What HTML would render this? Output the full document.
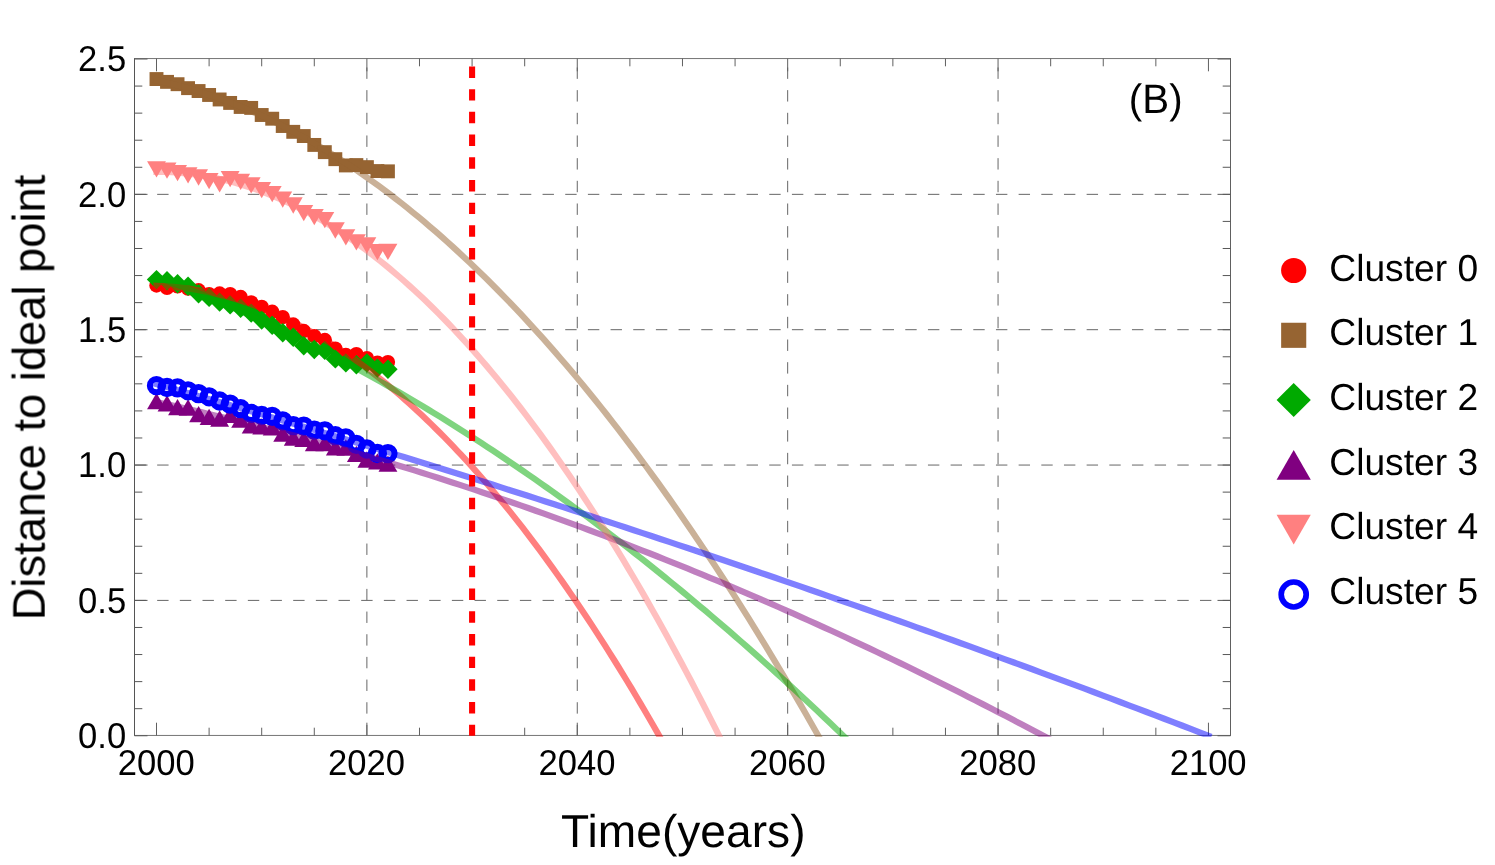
<!DOCTYPE html>
<html><head><meta charset="utf-8"><title>Chart</title>
<style>html,body{margin:0;padding:0;background:#fff;}body{width:1495px;height:865px;overflow:hidden;position:relative;font-family:"Liberation Sans",sans-serif;}</style></head>
<body>
<svg width="1495" height="865" viewBox="0 0 1495 865" style="position:absolute;left:0;top:0">
<rect width="1495" height="865" fill="#fff"/>
<g stroke="#666" stroke-width="1" stroke-dasharray="11.4 11.27" fill="none">
<path d="M134.50 600.40H1230.50"/>
<path d="M134.50 465.05H1230.50"/>
<path d="M134.50 329.70H1230.50"/>
<path d="M134.50 194.35H1230.50"/>
<path d="M366.89 735.50V58.50" stroke-dashoffset="0.8"/>
<path d="M577.28 735.50V58.50" stroke-dashoffset="0.8"/>
<path d="M787.67 735.50V58.50" stroke-dashoffset="0.8"/>
<path d="M998.06 735.50V58.50" stroke-dashoffset="0.8"/>
</g>
<g stroke-width="1" fill="none">
<path d="M134.50 58.00V736.00" stroke="#555"/>
<path d="M1230.50 58.00V736.00" stroke="#606060"/>
<path d="M134.50 58.55H1230.50M134.50 735.45H1230.50" stroke="#757575"/>
<path d="M156.50 735.50v-12.8M156.50 58.50v12.8M209.10 735.50v-7.8M209.10 58.50v7.8M261.69 735.50v-7.8M261.69 58.50v7.8M314.29 735.50v-7.8M314.29 58.50v7.8M366.89 735.50v-12.8M366.89 58.50v12.8M419.49 735.50v-7.8M419.49 58.50v7.8M472.09 735.50v-7.8M472.09 58.50v7.8M524.68 735.50v-7.8M524.68 58.50v7.8M577.28 735.50v-12.8M577.28 58.50v12.8M629.88 735.50v-7.8M629.88 58.50v7.8M682.48 735.50v-7.8M682.48 58.50v7.8M735.07 735.50v-7.8M735.07 58.50v7.8M787.67 735.50v-12.8M787.67 58.50v12.8M840.27 735.50v-7.8M840.27 58.50v7.8M892.87 735.50v-7.8M892.87 58.50v7.8M945.46 735.50v-7.8M945.46 58.50v7.8M998.06 735.50v-12.8M998.06 58.50v12.8M1050.66 735.50v-7.8M1050.66 58.50v7.8M1103.26 735.50v-7.8M1103.26 58.50v7.8M1155.85 735.50v-7.8M1155.85 58.50v7.8M1208.45 735.50v-12.8M1208.45 58.50v12.8" stroke="#606060"/>
<path d="M134.50 735.75h13M1230.50 735.75h-13M134.50 708.68h7.8M1230.50 708.68h-7.8M134.50 681.61h7.8M1230.50 681.61h-7.8M134.50 654.54h7.8M1230.50 654.54h-7.8M134.50 627.47h7.8M1230.50 627.47h-7.8M134.50 600.40h13M1230.50 600.40h-13M134.50 573.33h7.8M1230.50 573.33h-7.8M134.50 546.26h7.8M1230.50 546.26h-7.8M134.50 519.19h7.8M1230.50 519.19h-7.8M134.50 492.12h7.8M1230.50 492.12h-7.8M134.50 465.05h13M1230.50 465.05h-13M134.50 437.98h7.8M1230.50 437.98h-7.8M134.50 410.91h7.8M1230.50 410.91h-7.8M134.50 383.84h7.8M1230.50 383.84h-7.8M134.50 356.77h7.8M1230.50 356.77h-7.8M134.50 329.70h13M1230.50 329.70h-13M134.50 302.63h7.8M1230.50 302.63h-7.8M134.50 275.56h7.8M1230.50 275.56h-7.8M134.50 248.49h7.8M1230.50 248.49h-7.8M134.50 221.42h7.8M1230.50 221.42h-7.8M134.50 194.35h13M1230.50 194.35h-13M134.50 167.28h7.8M1230.50 167.28h-7.8M134.50 140.21h7.8M1230.50 140.21h-7.8M134.50 113.14h7.8M1230.50 113.14h-7.8M134.50 86.07h7.8M1230.50 86.07h-7.8M134.50 59.00h13M1230.50 59.00h-13" stroke="#585858"/>
</g>
<g fill="#ff0000">
<circle cx="156.50" cy="285.50" r="7.20"/>
<circle cx="167.02" cy="287.80" r="7.20"/>
<circle cx="177.54" cy="286.40" r="7.20"/>
<circle cx="188.06" cy="288.60" r="7.20"/>
<circle cx="198.58" cy="290.30" r="7.20"/>
<circle cx="209.10" cy="294.20" r="7.20"/>
<circle cx="219.62" cy="293.50" r="7.20"/>
<circle cx="230.14" cy="294.10" r="7.20"/>
<circle cx="240.66" cy="297.00" r="7.20"/>
<circle cx="251.18" cy="302.40" r="7.20"/>
<circle cx="261.69" cy="306.90" r="7.20"/>
<circle cx="272.21" cy="311.80" r="7.20"/>
<circle cx="282.73" cy="317.10" r="7.20"/>
<circle cx="293.25" cy="324.50" r="7.20"/>
<circle cx="303.77" cy="331.00" r="7.20"/>
<circle cx="314.29" cy="336.10" r="7.20"/>
<circle cx="324.81" cy="340.00" r="7.20"/>
<circle cx="335.33" cy="348.60" r="7.20"/>
<circle cx="345.85" cy="354.90" r="7.20"/>
<circle cx="356.37" cy="354.20" r="7.20"/>
<circle cx="366.89" cy="358.20" r="7.20"/>
<circle cx="377.41" cy="362.60" r="7.20"/>
<circle cx="387.93" cy="362.10" r="7.20"/>
</g>
<g fill="#966432">
<rect x="149.55" y="72.10" width="13.90" height="13.90"/>
<rect x="160.07" y="74.91" width="13.90" height="13.90"/>
<rect x="170.59" y="77.25" width="13.90" height="13.90"/>
<rect x="181.11" y="81.19" width="13.90" height="13.90"/>
<rect x="191.63" y="84.09" width="13.90" height="13.90"/>
<rect x="202.15" y="88.02" width="13.90" height="13.90"/>
<rect x="212.67" y="92.52" width="13.90" height="13.90"/>
<rect x="223.19" y="95.98" width="13.90" height="13.90"/>
<rect x="233.71" y="100.01" width="13.90" height="13.90"/>
<rect x="244.23" y="100.95" width="13.90" height="13.90"/>
<rect x="254.75" y="108.05" width="13.90" height="13.90"/>
<rect x="265.26" y="111.75" width="13.90" height="13.90"/>
<rect x="275.78" y="119.05" width="13.90" height="13.90"/>
<rect x="286.30" y="124.88" width="13.90" height="13.90"/>
<rect x="296.82" y="129.09" width="13.90" height="13.90"/>
<rect x="307.34" y="137.98" width="13.90" height="13.90"/>
<rect x="317.86" y="145.19" width="13.90" height="13.90"/>
<rect x="328.38" y="152.22" width="13.90" height="13.90"/>
<rect x="338.90" y="158.49" width="13.90" height="13.90"/>
<rect x="349.42" y="158.12" width="13.90" height="13.90"/>
<rect x="359.94" y="160.18" width="13.90" height="13.90"/>
<rect x="370.46" y="164.11" width="13.90" height="13.90"/>
<rect x="380.98" y="164.39" width="13.90" height="13.90"/>
</g>
<g fill="#00aa00">
<path d="M156.50 269.90L166.20 279.60L156.50 289.30L146.80 279.60Z"/>
<path d="M167.02 271.10L176.72 280.80L167.02 290.50L157.32 280.80Z"/>
<path d="M177.54 274.10L187.24 283.80L177.54 293.50L167.84 283.80Z"/>
<path d="M188.06 276.50L197.76 286.20L188.06 295.90L178.36 286.20Z"/>
<path d="M198.58 284.10L208.28 293.80L198.58 303.50L188.88 293.80Z"/>
<path d="M209.10 287.70L218.80 297.40L209.10 307.10L199.40 297.40Z"/>
<path d="M219.62 292.40L229.32 302.10L219.62 311.80L209.92 302.10Z"/>
<path d="M230.14 295.20L239.84 304.90L230.14 314.60L220.44 304.90Z"/>
<path d="M240.66 298.60L250.36 308.30L240.66 318.00L230.96 308.30Z"/>
<path d="M251.18 303.40L260.88 313.10L251.18 322.80L241.48 313.10Z"/>
<path d="M261.69 310.30L271.39 320.00L261.69 329.70L252.00 320.00Z"/>
<path d="M272.21 315.50L281.91 325.20L272.21 334.90L262.51 325.20Z"/>
<path d="M282.73 323.00L292.43 332.70L282.73 342.40L273.03 332.70Z"/>
<path d="M293.25 327.50L302.95 337.20L293.25 346.90L283.55 337.20Z"/>
<path d="M303.77 336.10L313.47 345.80L303.77 355.50L294.07 345.80Z"/>
<path d="M314.29 339.80L323.99 349.50L314.29 359.20L304.59 349.50Z"/>
<path d="M324.81 340.70L334.51 350.40L324.81 360.10L315.11 350.40Z"/>
<path d="M335.33 349.20L345.03 358.90L335.33 368.60L325.63 358.90Z"/>
<path d="M345.85 353.20L355.55 362.90L345.85 372.60L336.15 362.90Z"/>
<path d="M356.37 355.05L366.07 364.75L356.37 374.45L346.67 364.75Z"/>
<path d="M366.89 353.20L376.59 362.90L366.89 372.60L357.19 362.90Z"/>
<path d="M377.41 358.40L387.11 368.10L377.41 377.80L367.71 368.10Z"/>
<path d="M387.93 359.50L397.63 369.20L387.93 378.90L378.23 369.20Z"/>
</g>
<g fill="#800080">
<path d="M156.50 392.95L165.95 409.25L147.05 409.25Z"/>
<path d="M167.02 395.25L176.47 411.55L157.57 411.55Z"/>
<path d="M177.54 398.90L186.99 415.20L168.09 415.20Z"/>
<path d="M188.06 399.35L197.51 415.65L178.61 415.65Z"/>
<path d="M198.58 406.05L208.03 422.35L189.13 422.35Z"/>
<path d="M209.10 408.75L218.55 425.05L199.65 425.05Z"/>
<path d="M219.62 410.35L229.07 426.65L210.17 426.65Z"/>
<path d="M230.14 406.75L239.59 423.05L220.69 423.05Z"/>
<path d="M240.66 411.55L250.11 427.85L231.21 427.85Z"/>
<path d="M251.18 417.25L260.63 433.55L241.73 433.55Z"/>
<path d="M261.69 418.15L271.14 434.45L252.25 434.45Z"/>
<path d="M272.21 419.25L281.66 435.55L262.76 435.55Z"/>
<path d="M282.73 425.45L292.18 441.75L273.28 441.75Z"/>
<path d="M293.25 429.35L302.70 445.65L283.80 445.65Z"/>
<path d="M303.77 430.75L313.22 447.05L294.32 447.05Z"/>
<path d="M314.29 434.95L323.74 451.25L304.84 451.25Z"/>
<path d="M324.81 434.95L334.26 451.25L315.36 451.25Z"/>
<path d="M335.33 439.15L344.78 455.45L325.88 455.45Z"/>
<path d="M345.85 439.35L355.30 455.65L336.40 455.65Z"/>
<path d="M356.37 445.65L365.82 461.95L346.92 461.95Z"/>
<path d="M366.89 451.35L376.34 467.65L357.44 467.65Z"/>
<path d="M377.41 453.15L386.86 469.45L367.96 469.45Z"/>
<path d="M387.93 455.55L397.38 471.85L378.48 471.85Z"/>
</g>
<g fill="#ff8080">
<path d="M156.50 177.45L165.95 161.15L147.05 161.15Z"/>
<path d="M167.02 178.85L176.47 162.55L157.57 162.55Z"/>
<path d="M177.54 181.25L186.99 164.95L168.09 164.95Z"/>
<path d="M188.06 183.55L197.51 167.25L178.61 167.25Z"/>
<path d="M198.58 185.65L208.03 169.35L189.13 169.35Z"/>
<path d="M209.10 189.25L218.55 172.95L199.65 172.95Z"/>
<path d="M219.62 192.55L229.07 176.25L210.17 176.25Z"/>
<path d="M230.14 187.35L239.59 171.05L220.69 171.05Z"/>
<path d="M240.66 190.05L250.11 173.75L231.21 173.75Z"/>
<path d="M251.18 193.55L260.63 177.25L241.73 177.25Z"/>
<path d="M261.69 198.35L271.14 182.05L252.25 182.05Z"/>
<path d="M272.21 202.25L281.66 185.95L262.76 185.95Z"/>
<path d="M282.73 207.75L292.18 191.45L273.28 191.45Z"/>
<path d="M293.25 213.65L302.70 197.35L283.80 197.35Z"/>
<path d="M303.77 221.25L313.22 204.95L294.32 204.95Z"/>
<path d="M314.29 225.25L323.74 208.95L304.84 208.95Z"/>
<path d="M324.81 228.35L334.26 212.05L315.36 212.05Z"/>
<path d="M335.33 238.65L344.78 222.35L325.88 222.35Z"/>
<path d="M345.85 245.55L355.30 229.25L336.40 229.25Z"/>
<path d="M356.37 250.55L365.82 234.25L346.92 234.25Z"/>
<path d="M366.89 253.55L376.34 237.25L357.44 237.25Z"/>
<path d="M377.41 260.35L386.86 244.05L367.96 244.05Z"/>
<path d="M387.93 260.10L397.38 243.80L378.48 243.80Z"/>
</g>
<g fill="none" stroke="#0000ff" stroke-width="6.1">
<circle cx="156.50" cy="385.65" r="6.6"/>
<circle cx="167.02" cy="387.50" r="6.6"/>
<circle cx="177.54" cy="387.85" r="6.6"/>
<circle cx="188.06" cy="390.80" r="6.6"/>
<circle cx="198.58" cy="393.60" r="6.6"/>
<circle cx="209.10" cy="396.80" r="6.6"/>
<circle cx="219.62" cy="401.00" r="6.6"/>
<circle cx="230.14" cy="404.10" r="6.6"/>
<circle cx="240.66" cy="408.70" r="6.6"/>
<circle cx="251.18" cy="413.40" r="6.6"/>
<circle cx="261.69" cy="415.50" r="6.6"/>
<circle cx="272.21" cy="416.40" r="6.6"/>
<circle cx="282.73" cy="420.90" r="6.6"/>
<circle cx="293.25" cy="425.60" r="6.6"/>
<circle cx="303.77" cy="426.10" r="6.6"/>
<circle cx="314.29" cy="430.10" r="6.6"/>
<circle cx="324.81" cy="430.90" r="6.6"/>
<circle cx="335.33" cy="435.70" r="6.6"/>
<circle cx="345.85" cy="437.90" r="6.6"/>
<circle cx="356.37" cy="444.30" r="6.6"/>
<circle cx="366.89" cy="449.00" r="6.6"/>
<circle cx="377.41" cy="453.50" r="6.6"/>
<circle cx="387.93" cy="453.60" r="6.6"/>
</g>
<defs><clipPath id="pc"><rect x="124.50" y="58.50" width="1116.00" height="678.20"/></clipPath></defs>
<g clip-path="url(#pc)" fill="none" stroke-width="6.2" stroke-opacity="0.5" stroke-linecap="square" stroke-linejoin="round">
<polyline points="156.50,285.82 160.86,285.99 165.21,286.22 169.57,286.52 173.93,286.89 178.28,287.32 182.64,287.81 187.00,288.37 191.36,289.00 195.71,289.69 200.07,290.45 204.43,291.27 208.78,292.16 213.14,293.11 217.50,294.13 221.85,295.21 226.21,296.36 230.57,297.57 234.93,298.85 239.28,300.20 243.64,301.61 248.00,303.08 252.35,304.62 256.71,306.22 261.07,307.89 265.42,309.63 269.78,311.43 274.14,313.30 278.50,315.23 282.85,317.22 287.21,319.28 291.57,321.41 295.92,323.60 300.28,325.86 304.64,328.18 308.99,330.57 313.35,333.02 317.71,335.54 322.07,338.12 326.42,340.77 330.78,343.48 335.14,346.26 339.49,349.11 343.85,352.01 348.21,354.99 352.56,358.03 356.92,361.13 361.28,364.30 365.64,367.54 369.99,370.84 374.35,374.20 378.71,377.63 383.06,381.13 387.42,384.69 391.78,388.32 396.13,392.01 400.49,395.77 404.85,399.59 409.20,403.48 413.56,407.43 417.92,411.45 422.28,415.53 426.63,419.68 430.99,423.89 435.35,428.17 439.70,432.51 444.06,436.92 448.42,441.40 452.77,445.94 457.13,450.54 461.49,455.21 465.85,459.95 470.20,464.75 474.56,469.61 478.92,474.54 483.27,479.54 487.63,484.60 491.99,489.73 496.34,494.92 500.70,500.17 505.06,505.50 509.42,510.88 513.77,516.34 518.13,521.85 522.49,527.44 526.84,533.09 531.20,538.80 535.56,544.58 539.91,550.42 544.27,556.33 548.63,562.30 552.99,568.34 557.34,574.45 561.70,580.62 566.06,586.85 570.41,593.15 574.77,599.52 579.13,605.95 583.48,612.45 587.84,619.01 592.20,625.63 596.56,632.33 600.91,639.08 605.27,645.90 609.63,652.79 613.98,659.74 618.34,666.76 622.70,673.84 627.05,680.99 631.41,688.21 635.77,695.48 640.13,702.83 644.48,710.24 648.84,717.71 653.20,725.25 657.55,732.86 661.91,740.53 666.27,748.26 670.62,756.06 674.98,763.93" stroke="#ff0000"/>
<polyline points="156.50,80.36 162.19,81.62 167.89,82.96 173.58,84.37 179.28,85.86 184.97,87.42 190.66,89.06 196.36,90.78 202.05,92.57 207.75,94.44 213.44,96.38 219.13,98.40 224.83,100.50 230.52,102.67 236.22,104.92 241.91,107.24 247.61,109.64 253.30,112.12 258.99,114.67 264.69,117.29 270.38,120.00 276.08,122.78 281.77,125.63 287.46,128.57 293.16,131.57 298.85,134.66 304.55,137.82 310.24,141.05 315.93,144.36 321.63,147.75 327.32,151.22 333.02,154.76 338.71,158.37 344.40,162.06 350.10,165.83 355.79,169.68 361.49,173.60 367.18,177.59 372.88,181.66 378.57,185.81 384.26,190.04 389.96,194.34 395.65,198.71 401.35,203.16 407.04,207.69 412.73,212.29 418.43,216.97 424.12,221.73 429.82,226.56 435.51,231.47 441.20,236.45 446.90,241.51 452.59,246.65 458.29,251.86 463.98,257.15 469.67,262.51 475.37,267.95 481.06,273.47 486.76,279.06 492.45,284.73 498.15,290.48 503.84,296.30 509.53,302.19 515.23,308.16 520.92,314.21 526.62,320.34 532.31,326.54 538.00,332.81 543.70,339.16 549.39,345.59 555.09,352.10 560.78,358.68 566.47,365.33 572.17,372.06 577.86,378.87 583.56,385.76 589.25,392.72 594.94,399.75 600.64,406.87 606.33,414.05 612.03,421.32 617.72,428.66 623.42,436.07 629.11,443.57 634.80,451.13 640.50,458.78 646.19,466.50 651.89,474.30 657.58,482.17 663.27,490.12 668.97,498.14 674.66,506.24 680.36,514.42 686.05,522.67 691.74,531.00 697.44,539.40 703.13,547.88 708.83,556.44 714.52,565.07 720.21,573.78 725.91,582.56 731.60,591.42 737.30,600.36 742.99,609.37 748.69,618.46 754.38,627.63 760.07,636.87 765.77,646.18 771.46,655.58 777.16,665.04 782.85,674.59 788.54,684.21 794.24,693.90 799.93,703.68 805.63,713.53 811.32,723.45 817.01,733.45 822.71,743.53 828.40,753.68 834.10,763.91" stroke="#966432"/>
<polyline points="156.50,276.91 162.40,279.11 168.31,281.35 174.21,283.61 180.12,285.90 186.02,288.23 191.93,290.58 197.83,292.97 203.73,295.38 209.64,297.83 215.54,300.30 221.45,302.81 227.35,305.34 233.26,307.91 239.16,310.50 245.06,313.13 250.97,315.79 256.87,318.47 262.78,321.19 268.68,323.94 274.58,326.71 280.49,329.52 286.39,332.36 292.30,335.23 298.20,338.12 304.11,341.05 310.01,344.01 315.91,347.00 321.82,350.02 327.72,353.07 333.63,356.15 339.53,359.26 345.44,362.39 351.34,365.56 357.24,368.76 363.15,371.99 369.05,375.25 374.96,378.54 380.86,381.86 386.77,385.22 392.67,388.60 398.57,392.01 404.48,395.45 410.38,398.92 416.29,402.42 422.19,405.95 428.10,409.52 434.00,413.11 439.90,416.73 445.81,420.38 451.71,424.07 457.62,427.78 463.52,431.52 469.43,435.30 475.33,439.10 481.23,442.93 487.14,446.80 493.04,450.69 498.95,454.62 504.85,458.57 510.75,462.56 516.66,466.57 522.56,470.62 528.47,474.69 534.37,478.80 540.28,482.93 546.18,487.10 552.08,491.29 557.99,495.52 563.89,499.78 569.80,504.06 575.70,508.38 581.61,512.73 587.51,517.10 593.41,521.51 599.32,525.95 605.22,530.42 611.13,534.91 617.03,539.44 622.94,544.00 628.84,548.59 634.74,553.21 640.65,557.86 646.55,562.54 652.46,567.25 658.36,571.99 664.27,576.76 670.17,581.56 676.07,586.39 681.98,591.25 687.88,596.14 693.79,601.06 699.69,606.01 705.60,610.99 711.50,616.00 717.40,621.04 723.31,626.11 729.21,631.21 735.12,636.35 741.02,641.51 746.92,646.70 752.83,651.92 758.73,657.18 764.64,662.46 770.54,667.77 776.45,673.12 782.35,678.49 788.25,683.89 794.16,689.33 800.06,694.79 805.97,700.29 811.87,705.81 817.78,711.36 823.68,716.95 829.58,722.56 835.49,728.21 841.39,733.88 847.30,739.59 853.20,745.33 859.11,751.09" stroke="#00aa00"/>
<polyline points="156.50,401.99 164.08,403.67 171.67,405.36 179.25,407.08 186.84,408.82 194.42,410.58 202.00,412.36 209.59,414.16 217.17,415.97 224.75,417.81 232.34,419.67 239.92,421.55 247.51,423.45 255.09,425.37 262.67,427.32 270.26,429.28 277.84,431.26 285.43,433.26 293.01,435.28 300.59,437.33 308.18,439.39 315.76,441.47 323.34,443.58 330.93,445.70 338.51,447.84 346.10,450.01 353.68,452.19 361.26,454.40 368.85,456.62 376.43,458.87 384.02,461.14 391.60,463.42 399.18,465.73 406.77,468.06 414.35,470.40 421.93,472.77 429.52,475.16 437.10,477.57 444.69,480.00 452.27,482.45 459.85,484.91 467.44,487.40 475.02,489.91 482.61,492.44 490.19,495.00 497.77,497.57 505.36,500.16 512.94,502.77 520.53,505.40 528.11,508.05 535.69,510.73 543.28,513.42 550.86,516.13 558.44,518.87 566.03,521.62 573.61,524.39 581.20,527.19 588.78,530.00 596.36,532.84 603.95,535.69 611.53,538.57 619.12,541.46 626.70,544.38 634.28,547.32 641.87,550.28 649.45,553.25 657.03,556.25 664.62,559.27 672.20,562.31 679.79,565.37 687.37,568.44 694.95,571.54 702.54,574.66 710.12,577.80 717.71,580.96 725.29,584.14 732.87,587.34 740.46,590.57 748.04,593.81 755.62,597.07 763.21,600.35 770.79,603.65 778.38,606.98 785.96,610.32 793.54,613.68 801.13,617.07 808.71,620.47 816.30,623.90 823.88,627.34 831.46,630.80 839.05,634.29 846.63,637.80 854.21,641.32 861.80,644.87 869.38,648.43 876.97,652.02 884.55,655.63 892.13,659.26 899.72,662.90 907.30,666.57 914.89,670.26 922.47,673.97 930.05,677.70 937.64,681.45 945.22,685.22 952.80,689.01 960.39,692.82 967.97,696.65 975.56,700.50 983.14,704.37 990.72,708.26 998.31,712.18 1005.89,716.11 1013.48,720.06 1021.06,724.03 1028.64,728.03 1036.23,732.04 1043.81,736.08 1051.39,740.13 1058.98,744.21" stroke="#800080"/>
<polyline points="156.50,171.83 161.36,171.87 166.22,172.00 171.08,172.21 175.94,172.50 180.80,172.88 185.66,173.34 190.52,173.88 195.38,174.51 200.24,175.22 205.10,176.02 209.96,176.90 214.82,177.87 219.68,178.92 224.54,180.05 229.40,181.27 234.26,182.58 239.12,183.96 243.98,185.43 248.84,186.99 253.70,188.63 258.56,190.35 263.42,192.16 268.28,194.06 273.14,196.03 278.01,198.09 282.87,200.24 287.73,202.47 292.59,204.78 297.45,207.18 302.31,209.66 307.17,212.23 312.03,214.88 316.89,217.61 321.75,220.43 326.61,223.33 331.47,226.32 336.33,229.39 341.19,232.55 346.05,235.79 350.91,239.11 355.77,242.52 360.63,246.01 365.49,249.59 370.35,253.25 375.21,257.00 380.07,260.83 384.93,264.74 389.79,268.74 394.65,272.82 399.51,276.99 404.37,281.24 409.23,285.57 414.09,289.99 418.95,294.49 423.81,299.08 428.67,303.75 433.53,308.51 438.39,313.35 443.25,318.27 448.11,323.28 452.97,328.37 457.83,333.55 462.69,338.81 467.55,344.16 472.41,349.58 477.27,355.10 482.13,360.70 486.99,366.38 491.85,372.14 496.71,378.00 501.57,383.93 506.43,389.95 511.29,396.05 516.15,402.24 521.02,408.51 525.88,414.87 530.74,421.31 535.60,427.83 540.46,434.44 545.32,441.13 550.18,447.91 555.04,454.77 559.90,461.72 564.76,468.75 569.62,475.86 574.48,483.06 579.34,490.34 584.20,497.71 589.06,505.16 593.92,512.69 598.78,520.31 603.64,528.01 608.50,535.80 613.36,543.67 618.22,551.63 623.08,559.67 627.94,567.79 632.80,576.00 637.66,584.29 642.52,592.67 647.38,601.13 652.24,609.68 657.10,618.31 661.96,627.02 666.82,635.82 671.68,644.70 676.54,653.67 681.40,662.72 686.26,671.85 691.12,681.07 695.98,690.38 700.84,699.76 705.70,709.24 710.56,718.79 715.42,728.43 720.28,738.16 725.14,747.96 730.00,757.86 734.86,767.83" stroke="#ff8080"/>
<polyline points="156.50,384.09 165.34,386.59 174.18,389.10 183.02,391.62 191.86,394.15 200.70,396.68 209.54,399.22 218.38,401.77 227.22,404.33 236.06,406.89 244.90,409.46 253.74,412.04 262.58,414.63 271.42,417.22 280.26,419.82 289.10,422.43 297.94,425.05 306.78,427.68 315.62,430.31 324.46,432.95 333.30,435.60 342.14,438.25 350.98,440.92 359.82,443.59 368.66,446.27 377.50,448.96 386.34,451.65 395.18,454.35 404.02,457.06 412.86,459.78 421.70,462.50 430.54,465.24 439.38,467.98 448.22,470.72 457.06,473.48 465.90,476.24 474.74,479.01 483.58,481.79 492.42,484.58 501.26,487.37 510.10,490.17 518.94,492.98 527.78,495.80 536.62,498.62 545.46,501.46 554.30,504.30 563.14,507.14 571.98,510.00 580.82,512.86 589.66,515.73 598.50,518.61 607.34,521.50 616.18,524.39 625.02,527.29 633.86,530.20 642.70,533.12 651.54,536.04 660.38,538.97 669.22,541.91 678.06,544.86 686.89,547.81 695.73,550.78 704.57,553.75 713.41,556.72 722.25,559.71 731.09,562.70 739.93,565.70 748.77,568.71 757.61,571.73 766.45,574.75 775.29,577.78 784.13,580.82 792.97,583.87 801.81,586.92 810.65,589.99 819.49,593.05 828.33,596.13 837.17,599.22 846.01,602.31 854.85,605.41 863.69,608.52 872.53,611.63 881.37,614.76 890.21,617.89 899.05,621.03 907.89,624.17 916.73,627.33 925.57,630.49 934.41,633.66 943.25,636.84 952.09,640.02 960.93,643.21 969.77,646.41 978.61,649.62 987.45,652.84 996.29,656.06 1005.13,659.29 1013.97,662.53 1022.81,665.77 1031.65,669.03 1040.49,672.29 1049.33,675.56 1058.17,678.83 1067.01,682.12 1075.85,685.41 1084.69,688.71 1093.53,692.02 1102.37,695.33 1111.21,698.66 1120.05,701.99 1128.89,705.32 1137.73,708.67 1146.57,712.02 1155.41,715.38 1164.25,718.75 1173.09,722.13 1181.93,725.51 1190.77,728.90 1199.61,732.30 1208.45,735.71" stroke="#0000ff"/>
</g>
<path d="M472.09 66.45V735.80" stroke="#ff0000" stroke-width="6.07" stroke-dasharray="11.45 11.25" fill="none"/>
<g font-family="Liberation Sans, sans-serif" fill="#000" opacity="0.999" text-rendering="geometricPrecision">
<text transform="translate(126.20,748.05) scale(1.0,1.04)" font-size="34.6" text-anchor="end">0.0</text>
<text transform="translate(126.20,612.70) scale(1.0,1.04)" font-size="34.6" text-anchor="end">0.5</text>
<text transform="translate(126.20,477.35) scale(1.0,1.04)" font-size="34.6" text-anchor="end">1.0</text>
<text transform="translate(126.20,342.00) scale(1.0,1.04)" font-size="34.6" text-anchor="end">1.5</text>
<text transform="translate(126.20,206.65) scale(1.0,1.04)" font-size="34.6" text-anchor="end">2.0</text>
<text transform="translate(126.20,71.30) scale(1.0,1.04)" font-size="34.6" text-anchor="end">2.5</text>
<text transform="translate(156.20,775.20) scale(1.0,1.04)" font-size="34.6" text-anchor="middle">2000</text>
<text transform="translate(366.59,775.20) scale(1.0,1.04)" font-size="34.6" text-anchor="middle">2020</text>
<text transform="translate(576.98,775.20) scale(1.0,1.04)" font-size="34.6" text-anchor="middle">2040</text>
<text transform="translate(787.37,775.20) scale(1.0,1.04)" font-size="34.6" text-anchor="middle">2060</text>
<text transform="translate(997.76,775.20) scale(1.0,1.04)" font-size="34.6" text-anchor="middle">2080</text>
<text transform="translate(1208.15,775.20) scale(1.0,1.04)" font-size="34.6" text-anchor="middle">2100</text>
<text transform="translate(683.30,847.40) scale(1.012,1.01)" font-size="45.6" text-anchor="middle">Time(years)</text>
<text transform="translate(45.10,397.50) rotate(-90) scale(1.0,1.01)" font-size="45.3" text-anchor="middle">Distance to ideal point</text>
<text transform="translate(1155.70,112.80) scale(1.0,1.02)" font-size="40.3" text-anchor="middle">(B)</text>
<text transform="translate(1329.30,280.50) scale(1.0,1.01)" font-size="37.2" text-anchor="start">Cluster 0</text>
<text transform="translate(1329.30,345.20) scale(1.0,1.01)" font-size="37.2" text-anchor="start">Cluster 1</text>
<text transform="translate(1329.30,409.90) scale(1.0,1.01)" font-size="37.2" text-anchor="start">Cluster 2</text>
<text transform="translate(1329.30,474.60) scale(1.0,1.01)" font-size="37.2" text-anchor="start">Cluster 3</text>
<text transform="translate(1329.30,539.30) scale(1.0,1.01)" font-size="37.2" text-anchor="start">Cluster 4</text>
<text transform="translate(1329.30,604.00) scale(1.0,1.01)" font-size="37.2" text-anchor="start">Cluster 5</text>
</g>
<circle cx="1293.7" cy="270.50" r="12.6" fill="#ff0000"/>
<rect x="1281.15" y="322.75" width="25.1" height="25.1" fill="#966432"/>
<path d="M1293.7 383.10L1310.8 400.10L1293.7 417.10L1276.6000000000001 400.10Z" fill="#00aa00"/>
<path d="M1293.7 450.05L1310.8 479.75L1276.6000000000001 479.75Z" fill="#800080"/>
<path d="M1293.7 544.55L1310.8 514.85L1276.6000000000001 514.85Z" fill="#ff8080"/>
<circle cx="1293.7" cy="594.50" r="12.5" fill="none" stroke="#0000ff" stroke-width="5.7"/>
</svg>
</body></html>
